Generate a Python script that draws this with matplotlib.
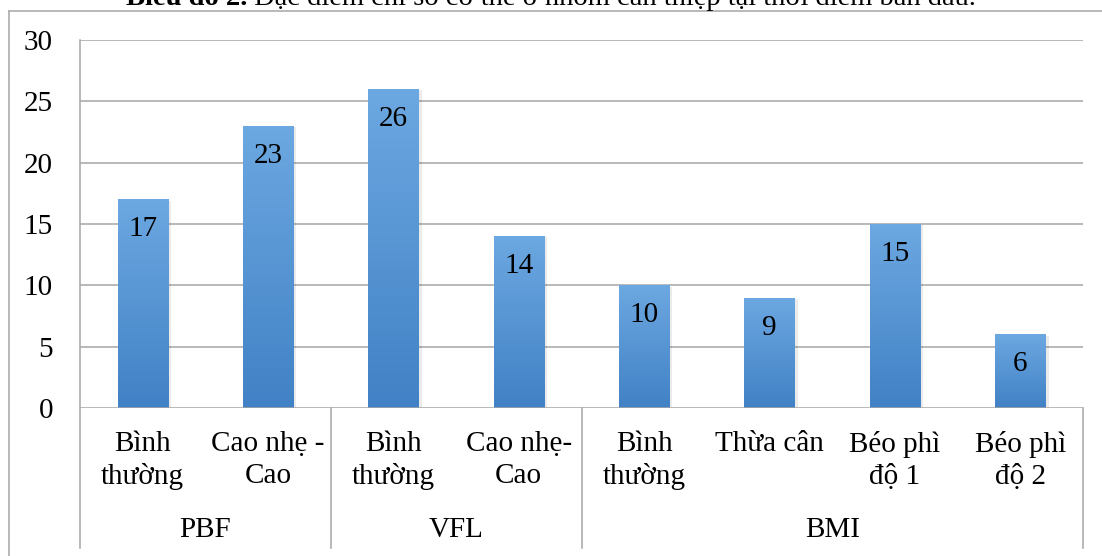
import matplotlib
matplotlib.use("Agg")
import matplotlib.pyplot as plt
import numpy as np
from matplotlib.patches import Rectangle
from matplotlib.colors import LinearSegmentedColormap

plt.rcParams['font.family'] = ['Liberation Serif', 'DejaVu Serif']

# Dữ liệu
categories = ["Bình\nthường", "Cao nhẹ -\nCao", "Bình\nthường", "Cao nhẹ-\nCao",
              "Bình\nthường", "Thừa cân", "Béo phì\nđộ 1", "Béo phì\nđộ 2"]
values = [17, 23, 26, 14, 10, 9, 15, 6]
groups = ["PBF", "VFL", "BMI"]
group_sizes = [2, 2, 4]
y_ticks = [0, 5, 10, 15, 20, 25, 30]
title_bold = "Biểu đồ 2."
title_rest = " Đặc điểm chỉ số cơ thể ở nhóm can thiệp tại thời điểm ban đầu."

W, H = 1102, 556
fig = plt.figure(figsize=(W / 100, H / 100), dpi=100)
ax = fig.add_axes([80 / W, (H - 408) / H, (1083 - 80) / W, 368 / H])

line_col = "#A6A6A6"
fs = 21

# Khung ngoài
fig.add_artist(plt.Line2D([9 / W, 9 / W], [0, 1 - 11 / H], color=line_col, lw=1.1, transform=fig.transFigure))
fig.add_artist(plt.Line2D([9 / W, 1], [1 - 11 / H, 1 - 11 / H], color=line_col, lw=1.1, transform=fig.transFigure))

x = np.arange(len(values))
bw = 0.4

# Lưới ngang
for t in y_ticks[1:]:
    ax.axhline(t, color=line_col, lw=1.1, zorder=0)

# Cột với dải màu
grad = np.linspace(0, 1, 256).reshape(-1, 1)
cmap = LinearSegmentedColormap.from_list("bar", ["#4181C5", "#6CA8E1"])
for xi, v in zip(x, values):
    sh = Rectangle((xi - bw / 2 + 0.025, 0), bw, v - 0.1, facecolor="#000000", alpha=0.08,
                   edgecolor="none", zorder=1)
    ax.add_patch(sh)
    rect = Rectangle((xi - bw / 2, 0), bw, v, facecolor="none", edgecolor="none", zorder=2)
    ax.add_patch(rect)
    im = ax.imshow(grad, extent=(xi - bw / 2, xi + bw / 2, 0, v), origin="lower",
                   cmap=cmap, aspect="auto", zorder=2)
    im.set_clip_path(rect)
    ax.annotate(str(v), (xi, v), xytext=(0, -30), textcoords="offset pixels",
                ha="center", va="center", fontsize=fs, zorder=3)

ax.set_xlim(-0.5, len(values) - 0.5)
ax.set_ylim(0, 30)

# Trục
for s in ax.spines.values():
    s.set_visible(False)
ax.axhline(0, color=line_col, lw=1.1, zorder=4)
ax.set_xticks([])
ax.set_yticks(y_ticks)
ax.tick_params(axis="y", length=0, pad=19.5, labelsize=fs)

trans = ax.get_xaxis_transform()
# Đường dọc trái / phải / phân nhóm
bounds = np.concatenate([[0], np.cumsum(group_sizes)]) - 0.5
ax.plot([-0.5, -0.5], [1, -0.38], color=line_col, lw=1.1, transform=trans, clip_on=False)
for b in bounds[1:]:
    ax.plot([b, b], [0, -0.38], color=line_col, lw=1.1, transform=trans, clip_on=False)

for xi, c in zip(x, categories):
    ax.text(xi, -0.063, c, transform=trans, ha="center", va="top", fontsize=fs,
            linespacing=1.3)

for g, a, b in zip(groups, bounds[:-1], bounds[1:]):
    ax.text((a + b) / 2, -0.332, g, transform=trans, ha="center", va="center", fontsize=fs)

# Tiêu đề (bị cắt ở mép trên như ảnh gốc)
fig.canvas.draw()
r = fig.canvas.get_renderer()
t1 = fig.text(0, 1 - 5 / H, title_bold, fontsize=20.5, fontweight="bold", va="baseline")
t2 = fig.text(0, 1 - 5 / H, title_rest, fontsize=20.5, va="baseline")
w1 = t1.get_window_extent(r).width
w2 = t2.get_window_extent(r).width
x0 = 551 - (w1 + w2) / 2
t1.set_x(x0 / W)
t2.set_x((x0 + w1) / W)

fig.savefig("out.png", dpi=100)
